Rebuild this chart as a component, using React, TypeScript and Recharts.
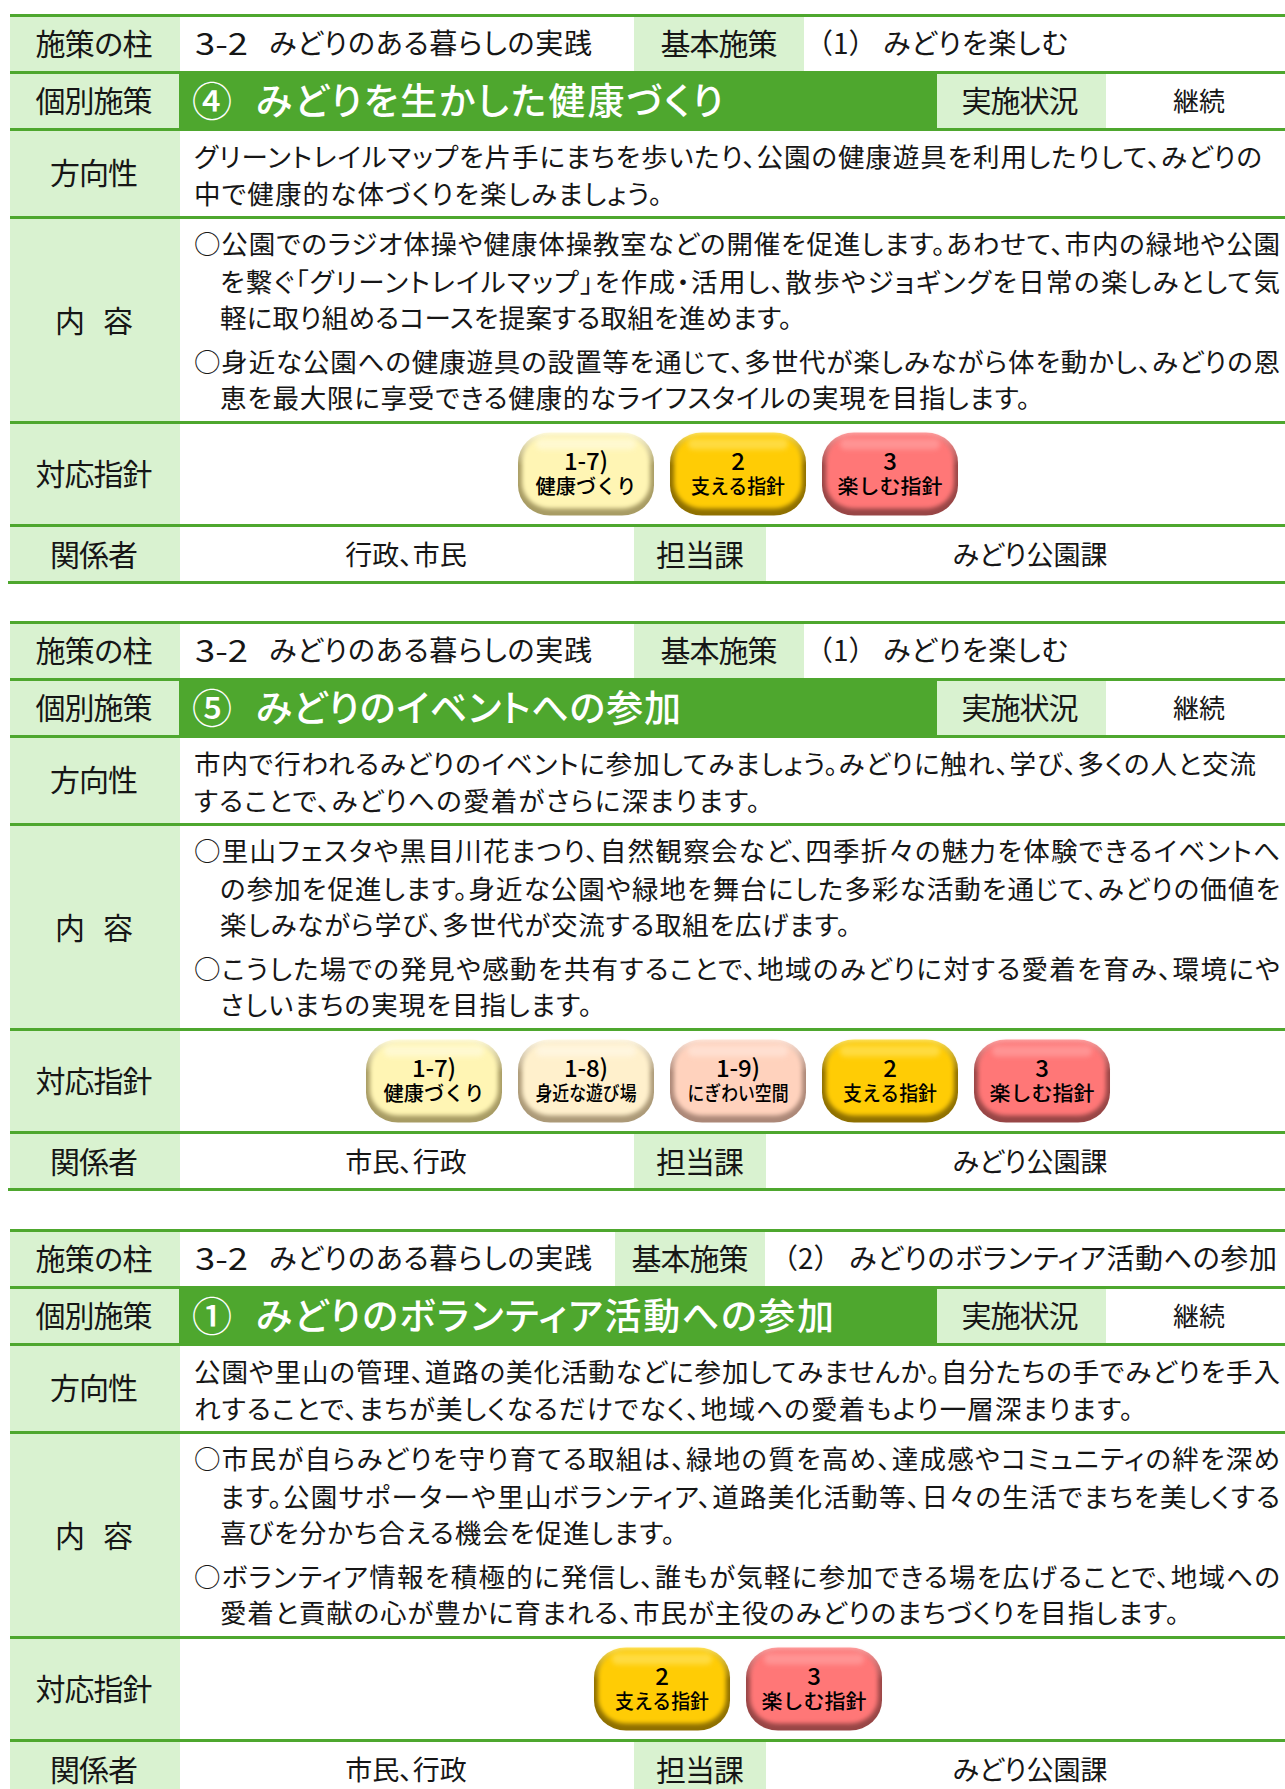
import { ComposedChart, ReferenceArea, Scatter, XAxis, YAxis } from "recharts";

const WIDTH = 1285;
const HEIGHT = 1789;
const FONT = '"Noto Sans CJK JP", "Noto Sans", sans-serif';
const RULE = "#4EA72E";
const LABEL_BG = "#D9F2D0";
const INK = "#161616";

// row captions, same in every block
const rowLabels = ["施策の柱", "個別施策", "方向性", "内 容", "対応指針", "関係者"];
const basicLabel = "基本施策";
const statusLabel = "実施状況";
const deptLabel = "担当課";

const pillarCodes = ["3-2", "3-2", "3-2"];
const pillarNames = ["みどりのある暮らしの実践", "みどりのある暮らしの実践", "みどりのある暮らしの実践"];
const basicCodes = ["（1）", "（1）", "（2）"];
const basicNames = ["みどりを楽しむ", "みどりを楽しむ", "みどりのボランティア活動への参加"];
const titleMarks = ["④", "⑤", "①"];
const titleNames = ["みどりを生かした健康づくり", "みどりのイベントへの参加", "みどりのボランティア活動への参加"];
const statuses = ["継続", "継続", "継続"];
const stakeholders = ["行政、市民", "市民、行政", "市民、行政"];
const departments = ["みどり公園課", "みどり公園課", "みどり公園課"];

const directionLines = [
  ["グリーントレイルマップを片手にまちを歩いたり、公園の健康遊具を利用したりして、みどりの", "中で健康的な体づくりを楽しみましょう。"],
  ["市内で行われるみどりのイベントに参加してみましょう。みどりに触れ、学び、多くの人と交流", "することで、みどりへの愛着がさらに深まります。"],
  ["公園や里山の管理、道路の美化活動などに参加してみませんか。自分たちの手でみどりを手入", "れすることで、まちが美しくなるだけでなく、地域への愛着もより一層深まります。"],
];
const contentLines = [
  [
    "○公園でのラジオ体操や健康体操教室などの開催を促進します。あわせて、市内の緑地や公園",
    "を繋ぐ「グリーントレイルマップ」を作成・活用し、散歩やジョギングを日常の楽しみとして気",
    "軽に取り組めるコースを提案する取組を進めます。",
    "○身近な公園への健康遊具の設置等を通じて、多世代が楽しみながら体を動かし、みどりの恩",
    "恵を最大限に享受できる健康的なライフスタイルの実現を目指します。",
  ],
  [
    "○里山フェスタや黒目川花まつり、自然観察会など、四季折々の魅力を体験できるイベントへ",
    "の参加を促進します。身近な公園や緑地を舞台にした多彩な活動を通じて、みどりの価値を",
    "楽しみながら学び、多世代が交流する取組を広げます。",
    "○こうした場での発見や感動を共有することで、地域のみどりに対する愛着を育み、環境にや",
    "さしいまちの実現を目指します。",
  ],
  [
    "○市民が自らみどりを守り育てる取組は、緑地の質を高め、達成感やコミュニティの絆を深め",
    "ます。公園サポーターや里山ボランティア、道路美化活動等、日々の生活でまちを美しくする",
    "喜びを分かち合える機会を促進します。",
    "○ボランティア情報を積極的に発信し、誰もが気軽に参加できる場を広げることで、地域への",
    "愛着と貢献の心が豊かに育まれる、市民が主役のみどりのまちづくりを目指します。",
  ],
];

// guideline badges per block: [number, name, palette key]
const guideBadges = [
  [["1-7)", "健康づくり", "a"], ["2", "支える指針", "y"], ["3", "楽しむ指針", "r"]],
  [["1-7)", "健康づくり", "a"], ["1-8)", "身近な遊び場", "b"], ["1-9)", "にぎわい空間", "c"], ["2", "支える指針", "y"], ["3", "楽しむ指針", "r"]],
  [["2", "支える指針", "y"], ["3", "楽しむ指針", "r"]],
];

// layout, kept apart from the content above
const blockOffsets = [0, 607, 1215];
const ruleTops = [14, 71, 128, 216, 421, 524, 581];
const ruleHeight = 3;
const labelCenters = [42, 99, 171, 319, 472, 553];
const labelWidths = [117, 117, 88, 78, 117, 88];
const directionEnds = [[1262, 662], [1256, 760], [1280, 1133]];
const contentEnds = [[1280, 1280, 792, 1280, 1030], [1280, 1280, 850, 1280, 592], [1280, 1280, 675, 1280, 1179]];
const contentRows = [242, 280, 316, 360, 396];
const basicCell = [[634, 804], [634, 804], [615, 765]];
const basicValue = [[805, 883, 1068], [805, 883, 1068], [770, 849, 1277]];
const titleEnds = [723, 681, 834];
const palettes: Record<string, { base: string; top: string; shade: string }> = {
  a: { base: "#FFF5B4", top: "#FFFBDD", shade: "#A89C64" },
  b: { base: "#FFF0CC", top: "#FFF8E6", shade: "#AC9A78" },
  c: { base: "#FFD2BD", top: "#FFE6DA", shade: "#AC8878" },
  y: { base: "#FFCC05", top: "#FFE25A", shade: "#8F7000" },
  r: { base: "#FF7777", top: "#FFA0A0", shade: "#984646" },
};
const BADGE_W = 136;
const BADGE_H = 83;
const BADGE_PITCH = 152;
const BADGE_CENTER = 738;

type TextItem = {
  x: number;
  y: number;
  text: string;
  anchor?: string;
  size?: number;
  fill?: string;
  length?: number;
  weight?: number;
  stretch?: boolean;
  solid?: boolean;
};

const areas: { x1: number; x2: number; y1: number; y2: number; fill: string }[] = [];
const texts: TextItem[] = [];
const badges: { x: number; y: number; num: string; name: string; tone: string; nameLen: number }[] = [];

const clampY = (v: number) => Math.min(v, HEIGHT);

blockOffsets.forEach((off, b) => {
  // label column and label cells
  areas.push({ x1: 10, x2: 180, y1: off + ruleTops[0], y2: clampY(off + ruleTops[6]), fill: LABEL_BG });
  areas.push({ x1: basicCell[b][0], x2: basicCell[b][1], y1: off + ruleTops[0], y2: off + ruleTops[1], fill: LABEL_BG });
  areas.push({ x1: 179, x2: 937, y1: off + ruleTops[1], y2: off + ruleTops[2], fill: RULE });
  areas.push({ x1: 937, x2: 1106, y1: off + ruleTops[1], y2: off + ruleTops[2], fill: LABEL_BG });
  areas.push({ x1: 634, x2: 766, y1: off + ruleTops[5], y2: clampY(off + ruleTops[6]), fill: LABEL_BG });
  ruleTops.forEach((top, i) => {
    if (off + top >= HEIGHT) return;
    areas.push({ x1: i === 6 ? 8 : 10, x2: WIDTH, y1: off + top, y2: off + top + ruleHeight, fill: RULE });
  });

  rowLabels.forEach((label, i) => {
    texts.push({ x: 94, y: off + labelCenters[i], text: label, anchor: "middle", size: 30, length: labelWidths[i] });
  });

  const row1 = off + labelCenters[0];
  texts.push({ x: 195, y: row1, text: pillarCodes[b], size: 30, length: 53, stretch: true });
  texts.push({ x: 269, y: row1, text: pillarNames[b], size: 28, length: 323 });
  texts.push({ x: (basicCell[b][0] + basicCell[b][1]) / 2, y: row1, text: basicLabel, anchor: "middle", size: 30, length: 117 });
  texts.push({ x: basicValue[b][0], y: row1, text: basicCodes[b], size: 28, solid: true });
  texts.push({ x: basicValue[b][1], y: row1, text: basicNames[b], size: 28, length: basicValue[b][2] - basicValue[b][1] });

  const row2 = off + labelCenters[1];
  texts.push({ x: 192, y: row2, text: titleMarks[b], size: 40, fill: "#fff", weight: 500 });
  texts.push({ x: 256, y: row2, text: titleNames[b], size: 37, fill: "#fff", length: titleEnds[b] - 256, weight: 500 });
  texts.push({ x: 1020, y: row2, text: statusLabel, anchor: "middle", size: 30, length: 117 });
  texts.push({ x: 1199, y: row2, text: statuses[b], anchor: "middle", size: 26 });

  directionLines[b].forEach((line, i) => {
    texts.push({ x: 194, y: off + (i === 0 ? 155 : 192), text: line, size: 26.5, length: directionEnds[b][i] - 194 });
  });
  contentLines[b].forEach((line, i) => {
    const x = line.startsWith("○") ? 194 : 220;
    texts.push({ x, y: off + contentRows[i], text: line, size: 26.5, length: contentEnds[b][i] - x });
  });

  const row6 = off + labelCenters[5];
  texts.push({ x: 406, y: row6, text: stakeholders[b], anchor: "middle", size: 27 });
  texts.push({ x: 700, y: row6, text: deptLabel, anchor: "middle", size: 30, length: 88 });
  texts.push({ x: 1030, y: row6, text: departments[b], anchor: "middle", size: 27 });

  const n = guideBadges[b].length;
  guideBadges[b].forEach(([num, name, tone], i) => {
    badges.push({
      x: BADGE_CENTER + (i - (n - 1) / 2) * BADGE_PITCH,
      y: off + 474,
      num,
      name,
      tone,
      nameLen: tone === "y" ? 94 : tone === "r" ? 105 : 101,
    });
  });
});

const TextMark = (props: any) => {
  const { cx, cy, payload } = props;
  const p: TextItem = payload;
  return (
    <text
      x={cx}
      y={cy}
      textAnchor={(p.anchor as any) ?? "start"}
      dominantBaseline="central"
      fontFamily={FONT}
      fontSize={p.size ?? 25}
      fontWeight={p.weight ?? 400}
      fill={p.fill ?? INK}
      style={p.solid ? undefined : { fontFeatureSettings: '"palt"' }}
      textLength={p.length}
      lengthAdjust={p.length ? (p.stretch ? "spacingAndGlyphs" : "spacing") : undefined}
    >
      {p.text}
    </text>
  );
};

const BadgeMark = (props: any) => {
  const { cx, cy, payload } = props;
  const c = palettes[payload.tone];
  const x = cx - BADGE_W / 2;
  const y = cy - BADGE_H / 2;
  const id = `edge-${payload.tone}`;
  return (
    <g>
      <defs>
        <linearGradient id={id} x1="0" y1="0" x2="0" y2="1">
          <stop offset="0" stopColor={c.top} />
          <stop offset="0.4" stopColor={c.shade} />
          <stop offset="1" stopColor={c.shade} />
        </linearGradient>
      </defs>
      <rect x={x} y={y} width={BADGE_W} height={BADGE_H} rx={32} ry={30} fill={`url(#${id})`} />
      <rect x={x + 4} y={y + 3} width={BADGE_W - 8} height={BADGE_H - 10} rx={28} ry={26} fill={c.base} style={{ filter: "blur(2px)" }} />
      <rect x={x + 18} y={y + 6} width={BADGE_W - 36} height={11} rx={5} fill={c.top} opacity={0.7} style={{ filter: "blur(2.5px)" }} />
      <text x={cx} y={cy - 15} textAnchor="middle" dominantBaseline="central" fontFamily={FONT} fontSize={24} fontWeight={500} fill="#000" textLength={payload.num.length > 1 ? 44 : undefined} lengthAdjust="spacing">
        {payload.num}
      </text>
      <text x={cx} y={cy + 11} textAnchor="middle" dominantBaseline="central" fontFamily={FONT} fontSize={20} fontWeight={500} fill="#000" textLength={payload.nameLen} lengthAdjust="spacingAndGlyphs">
        {payload.name}
      </text>
    </g>
  );
};

export default function App() {
  return (
    <div style={{ position: "absolute", left: 0, top: 0, width: WIDTH, height: HEIGHT, background: "#fff" }}>
      <ComposedChart width={WIDTH} height={HEIGHT} margin={{ top: 0, right: 0, bottom: 0, left: 0 }}>
        <XAxis type="number" dataKey="x" domain={[0, WIDTH]} hide />
        <YAxis type="number" dataKey="y" domain={[0, HEIGHT]} reversed hide />
        {areas.map((a, i) => (
          <ReferenceArea key={i} x1={a.x1} x2={a.x2} y1={a.y1} y2={a.y2} fill={a.fill} fillOpacity={1} stroke="none" />
        ))}
        <Scatter data={badges} dataKey="y" isAnimationActive={false} shape={BadgeMark} />
        <Scatter data={texts} dataKey="y" isAnimationActive={false} shape={TextMark} />
      </ComposedChart>
    </div>
  );
}
